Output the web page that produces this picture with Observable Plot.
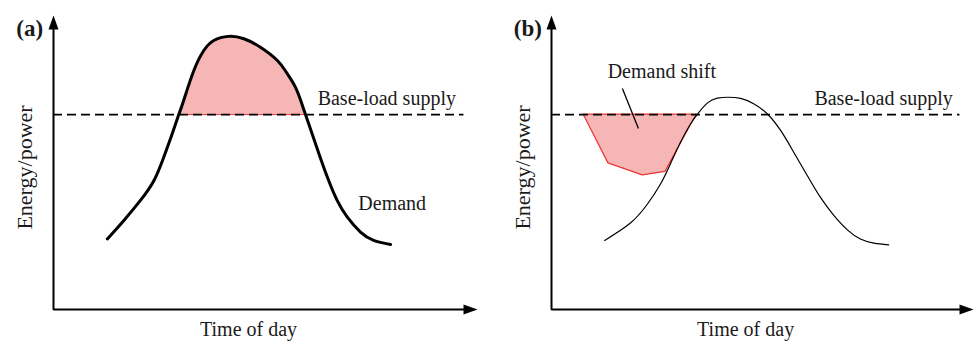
<!DOCTYPE html>
<html><head><meta charset="utf-8">
<script src="https://cdn.jsdelivr.net/npm/d3@7"></script>
<script src="https://cdn.jsdelivr.net/npm/@observablehq/plot@0.6"></script>
<style>
body{margin:0;background:#fff;}
#wrap{display:flex;width:977px;height:341px;overflow:hidden;}
svg text{font-family:"Liberation Serif","Times New Roman",serif !important;}
</style></head><body>
<div id="wrap"></div>
<script>
// ---- data (conceptual units: time 0–100, energy 0–100) ----
const timeA = [12.7,16.6,20.5,23.7,26.0,28.0,29.55,30.7,33.1,35.45,37.8,41.3,44.9,48.8,52.8,54.95,56.96,58.37,59.43,60.73,62.6,64.6,66.9,69.3,72.4,75.5,79.5];
const demandA = [24.0,30.3,37.1,43.9,51.8,59.8,66.3,71.1,81.3,88.1,91.5,92.9,92.1,89.2,84.7,80.6,75.9,70.8,66.3,60.9,53.0,45.0,37.1,31.4,26.3,23.5,22.1];
const timeB = [12.6,18.7,22.7,25.8,28.2,30.6,32.9,34.5,36.9,39.3,41.8,44.8,47.9,51.1,54.3,57.4,60.6,63.7,66.9,70.1,73.2,76.4,79.9];
const demandB = [23.5,29.4,35.8,42.6,49.6,57.0,63.0,66.3,70.2,71.9,72.2,71.8,70.0,66.6,60.9,53.5,45.6,38.2,32.0,27.1,24.0,22.6,22.0];
const baseLoad = 66.3;
const shiftTime = [7.6,13.5,21.6,27.0,34.4];
const shiftLow = [66.3,49.7,45.6,46.8,66.3];
const panelTags = ["(a)", "(b)"];
const axisTitles = ["Time of day", "Energy/power"];
const curveLabels = ["Base-load supply", "Demand", "Demand shift"];

// ---- tables ----
const ptsA = timeA.map((t, i) => ({t, e: demandA[i]}));
const ptsB = timeB.map((t, i) => ({t, e: demandB[i]}));
const shift = shiftTime.map((t, i) => ({t, low: shiftLow[i]}));
const axesPath = [{t: 0, e: 97}, {t: 0, e: 0}, {t: 97, e: 0}];
const FONT = "Liberation Serif";
const INK = "#1a1a1a";
const PINK = "#f7b6b6";

const arrowHead = {draw(ctx) { ctx.moveTo(0, 0); ctx.lineTo(5, 14); ctx.lineTo(-5, 14); ctx.closePath(); }};

function commonMarks(tag) {
  return [
    Plot.line(axesPath, {x: "t", y: "e", stroke: "black", strokeWidth: 2, strokeLinejoin: "miter"}),
    Plot.dot([{t: 0, e: 100}], {x: "t", y: "e", symbol: arrowHead, fill: "black", stroke: "none", r: 5}),
    Plot.dot([{t: 100, e: 0}], {x: "t", y: "e", symbol: arrowHead, fill: "black", stroke: "none", r: 5, rotate: 90}),
    Plot.ruleY([baseLoad], {x1: 0, x2: 96.8, stroke: "black", strokeWidth: 1.8, strokeDasharray: "9,5"}),
    Plot.text([tag], {x: -5.6, y: 95.4, text: d => d, fontSize: 23, fontWeight: "bold", fontFamily: FONT, fill: INK, textAnchor: "middle"}),
    Plot.text([axisTitles[0]], {x: 46, y: -7.0, text: d => d, fontSize: 20, fontFamily: FONT, fill: INK, textAnchor: "middle"}),
    Plot.text([axisTitles[1]], {x: -6.7, y: 48.3, text: d => d, fontSize: 22, fontFamily: FONT, fill: INK, rotate: -90, textAnchor: "middle"}),
    Plot.text([curveLabels[0]], {x: 62.3, y: 71.6, text: d => d, fontSize: 20, fontFamily: FONT, fill: INK, textAnchor: "start"})
  ];
}

function peakFill(pts) {
  if (Plot.differenceY) {
    return Plot.differenceY(pts, {x: "t", y1: () => baseLoad, y2: "e", curve: "natural",
      positiveFill: PINK, negativeFill: "none", positiveFillOpacity: 1, stroke: "none"});
  }
  return Plot.areaY(pts.filter(d => d.e >= baseLoad), {x: "t", y1: baseLoad, y2: "e", curve: "natural", fill: PINK});
}

const base = {
  height: 341, marginTop: 15, marginBottom: 32,
  x: {domain: [0, 100], axis: null},
  y: {domain: [0, 100], axis: null},
  style: {fontFamily: "'Liberation Serif', serif", background: "white", overflow: "visible", color: "black"}
};

const plotA = Plot.plot({
  ...base, width: 490, marginLeft: 53, marginRight: 13,
  marks: [
    peakFill(ptsA),
    Plot.ruleY([baseLoad], {x1: timeA[6], x2: timeA[18], stroke: "#e33", strokeWidth: 1}),
    ...commonMarks(panelTags[0]),
    Plot.line(ptsA, {x: "t", y: "e", curve: "natural", stroke: "black", strokeWidth: 3}),
    Plot.text([curveLabels[1]], {x: 71.9, y: 35.9, text: d => d, fontSize: 20, fontFamily: FONT, fill: INK, textAnchor: "start"})
  ]
});

const plotB = Plot.plot({
  ...base, width: 487, marginLeft: 61, marginRight: 4,
  marks: [
    Plot.areaY(shift, {x: "t", y1: "low", y2: baseLoad, fill: PINK, stroke: "#e33", strokeWidth: 1.2}),
    ...commonMarks(panelTags[1]),
    Plot.line(ptsB, {x: "t", y: "e", curve: "natural", stroke: "black", strokeWidth: 1.2}),
    Plot.link([{x1: 16.8, y1: 75.2, x2: 20.6, y2: 61.6}], {x1: "x1", y1: "y1", x2: "x2", y2: "y2", stroke: "black", strokeWidth: 1.3}),
    Plot.text([curveLabels[2]], {x: 13.3, y: 80.9, text: d => d, fontSize: 20, fontFamily: FONT, fill: INK, textAnchor: "start"})
  ]
});

document.getElementById("wrap").append(plotA, plotB);
</script>
</body></html>
